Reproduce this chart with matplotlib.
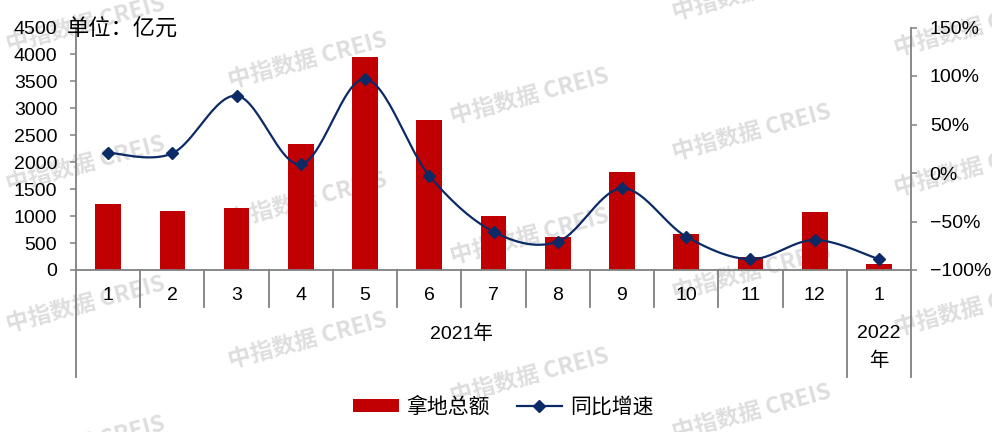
import numpy as np
import matplotlib
matplotlib.use("Agg")
import matplotlib.pyplot as plt
from matplotlib.patches import Patch
from matplotlib.lines import Line2D

# ---- data ----
months = ["1", "2", "3", "4", "5", "6", "7", "8", "9", "10", "11", "12", "1"]
year_labels = ["2021年", "2022", "年"]
land_amount = [1230, 1099, 1155, 2329, 3945, 2776, 1006, 621, 1826, 671, 236, 1081, 106]
yoy_growth = [20.9, 20.3, 79.7, 9.0, 96.9, -2.8, -60.5, -70.8, -15.8, -65.6, -88.9, -69.0, -88.9]
left_ticks = [0, 500, 1000, 1500, 2000, 2500, 3000, 3500, 4000, 4500]
right_ticks = [-100, -50, 0, 50, 100, 150]
right_tick_labels = ["\u2212100%", "\u221250%", "0%", "50%", "100%", "150%"]
series_names = ["拿地总额", "同比增速"]
unit_label = "单位：亿元"
watermark = "中指数据 CREIS"

BAR_C = "#C00000"
LINE_C = "#0B2A66"
GRAY = "#808080"
NUM_FONT = ["Liberation Sans", "Noto Sans CJK SC", "DejaVu Sans"]
CJK_FONT = ["Noto Sans CJK SC", "DejaVu Sans"]

W, H = 992, 432
fig = plt.figure(figsize=(W / 100, H / 100), dpi=100)
fig.patch.set_facecolor("white")

x_left, x_right, y_top, y_bot = 76, 911, 27.5, 270
ax = fig.add_axes([x_left / W, (H - y_bot) / H, (x_right - x_left) / W, (y_bot - y_top) / H])
ax.patch.set_visible(False)
ax2 = ax.twinx()
ax2.patch.set_visible(False)

def ay(py):
    return (y_bot - py) / (y_bot - y_top)

# watermark (behind everything)
for i in range(5):
    cx = 86 + 222 * i
    y0 = 25 + 36 * i
    for k in range(-1, 4):
        cy = y0 + 140 * k
        if -40 < cy < H + 40:
            fig.text(cx / W, 1 - cy / H, watermark, family=CJK_FONT, fontsize=16.5,
                     fontweight="bold", color="#dedede", rotation=15,
                     ha="center", va="center", zorder=-5)

n = len(months)
x = np.arange(n)

# bars
ax.bar(x, land_amount, width=0.4, color=BAR_C, zorder=2)
ax.set_xlim(-0.5, n - 0.5)
ax.set_ylim(0, 4500)
ax.set_yticks(left_ticks)
ax.set_yticklabels([str(t) for t in left_ticks], family=NUM_FONT, fontsize=14)

# smoothed line (Excel-like Catmull-Rom bezier)
def smooth(xs, ys, steps=30):
    P = np.column_stack([xs, ys]).astype(float)
    out = []
    m = len(P)
    for i in range(m - 1):
        p0 = P[i - 1] if i > 0 else P[i]
        p1, p2 = P[i], P[i + 1]
        p3 = P[i + 2] if i + 2 < m else P[i + 1]
        c1 = p1 + (p2 - p0) / 6
        c2 = p2 - (p3 - p1) / 6
        t = np.linspace(0, 1, steps)[:, None]
        seg = ((1 - t) ** 3) * p1 + 3 * ((1 - t) ** 2) * t * c1 + 3 * (1 - t) * t ** 2 * c2 + t ** 3 * p2
        out.append(seg if i == 0 else seg[1:])
    return np.vstack(out)

curve = smooth(x, yoy_growth)
ax2.plot(curve[:, 0], curve[:, 1], color=LINE_C, lw=1.6, zorder=3)
ax2.plot(x, yoy_growth, ls="none", marker="D", ms=6, color=LINE_C, zorder=4)
ax2.set_ylim(-100, 150)
ax2.set_yticks(right_ticks)
ax2.set_yticklabels(right_tick_labels, family=NUM_FONT, fontsize=14)

# spines / ticks
for s in ["top", "right"]:
    ax.spines[s].set_visible(False)
for s in ["top", "left", "bottom"]:
    ax2.spines[s].set_visible(False)
for sp in [ax.spines["left"], ax.spines["bottom"], ax2.spines["right"]]:
    sp.set_color(GRAY)
    sp.set_linewidth(1.3)
ax.tick_params(axis="y", direction="out", length=4.5, width=1.1, color=GRAY, pad=9, labelcolor="black")
ax2.tick_params(axis="y", direction="out", length=4.5, width=1.1, color=GRAY, pad=9, labelcolor="black")
ax.set_xticks([])
ax2.set_xticks([])

# category separators and labels
tr = ax.get_xaxis_transform()
short_end = ay(307)
long_end = ay(377)
for b in range(n + 1):
    xb = b - 0.5
    yend = long_end if b in (0, 12, 13) else short_end
    ax.plot([xb, xb], [0, yend], transform=tr, color=GRAY, lw=1.3, clip_on=False, zorder=1)
for i, m in enumerate(months):
    ax.text(i, ay(296), m, transform=tr, ha="center", va="center", family=NUM_FONT, fontsize=14)
ax.text(5.5, ay(334), year_labels[0], transform=tr, ha="center", va="center", family=NUM_FONT, fontsize=14)
ax.text(12, ay(334), year_labels[1], transform=tr, ha="center", va="center", family=NUM_FONT, fontsize=14)
ax.text(12, ay(361), year_labels[2], transform=tr, ha="center", va="center", family=NUM_FONT, fontsize=14)

# unit label
fig.text(67 / W, 1 - 29 / H, unit_label, family=CJK_FONT, fontsize=16, ha="left", va="center")

# legend
handles = [Patch(facecolor=BAR_C, edgecolor="none"),
           Line2D([0], [0], color=LINE_C, lw=1.6, marker="D", ms=6)]
fig.legend(handles, series_names, loc="center", bbox_to_anchor=(503 / W, 1 - 407 / H),
           ncol=2, frameon=False, prop={"family": CJK_FONT, "size": 15},
           handlelength=2.2, handleheight=0.6, handletextpad=0.35, columnspacing=1.3)

fig.savefig("out.png", dpi=100, facecolor="white")
